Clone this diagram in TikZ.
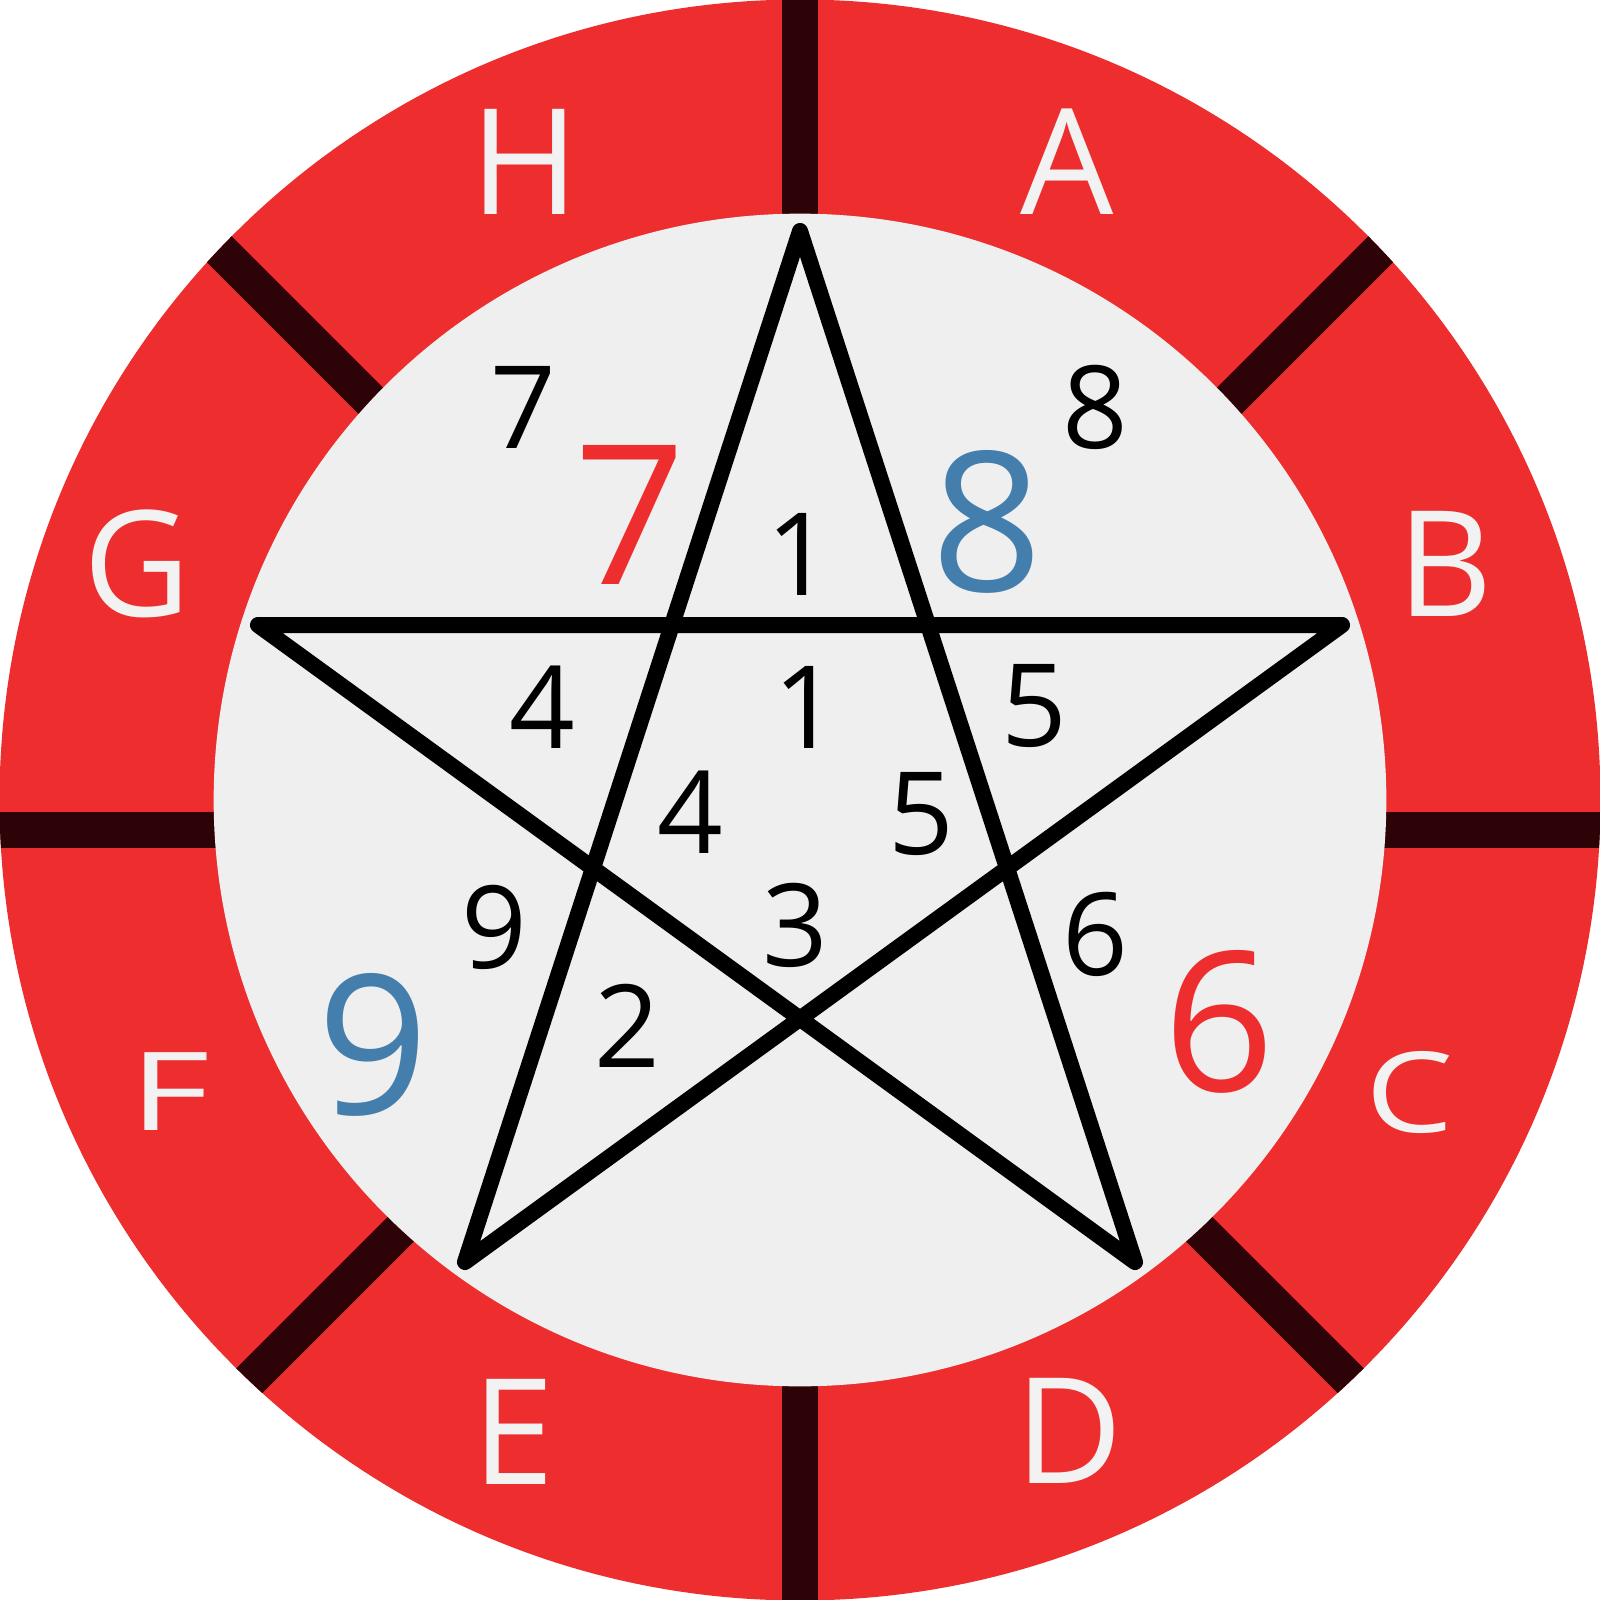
\documentclass[tikz,border=0pt]{standalone}
\usepackage{graphicx}
\usepackage{fontspec}
\setmainfont{Open Sans}
\definecolor{ringred}{RGB}{238,45,46}
\definecolor{bardark}{RGB}{45,3,7}
\definecolor{innergray}{RGB}{239,239,239}
\definecolor{ringtxt}{RGB}{242,242,242}
\definecolor{numblue}{RGB}{68,126,172}
\tikzset{
  divider/.style={draw=bardark, line width=0.36cm, line cap=butt},
  starline/.style={draw=black, line width=0.16cm, line join=round, line cap=round},
  ringlbl/.style={text=ringtxt, inner sep=0pt, font=\fontsize{41.9pt}{48pt}\selectfont},
  smalldg/.style={text=black, inner sep=0pt, font=\fontsize{32.7pt}{38pt}\selectfont},
  bigdg/.style={inner sep=0pt, font=\fontsize{55.4pt}{64pt}\selectfont},
}
\begin{document}
\begin{tikzpicture}[x=0.01cm, y=-0.01cm]
\useasboundingbox (0,0) rectangle (1600,1600);
\fill[white] (0,0) rectangle (1600,1600);
% outer ring
\fill[ringred] (800,800) circle (8cm);
\coordinate (hub) at (800,830);
\begin{scope}
  \clip (800,800) circle (8cm);
  \foreach \a in {0,45,...,315} \draw[divider] (hub) -- ++(\a:1000);
\end{scope}
% inner disc
\fill[innergray] (800,800) circle (5.86cm);
% pentagram
\coordinate (s0) at (800,231);
\coordinate (s1) at (1342,625);
\coordinate (s2) at (1135,1262);
\coordinate (s3) at (465,1262);
\coordinate (s4) at (258,625);
\draw[starline] (s0) -- (s3) -- (s1) -- (s4) -- (s2) -- cycle;
% ring letters
\node[ringlbl] (lH) at (525,162) {H};
\node[ringlbl] (lA) at (1067,162) {A};
\node[ringlbl] (lG) at (137,564) {G};
\node[ringlbl] (lB) at (1445,564) {B};
\node[ringlbl] (lF) at (170,1092) {\scalebox{1.06}[0.74]{F}};
\node[ringlbl] (lC) at (1410,1092) {\scalebox{0.95}[0.76]{C}};
\node[ringlbl] (lE) at (513,1432) {E};
\node[ringlbl] (lD) at (1069,1431) {D};
% small digits
\node[smalldg] (n7) at (523,407) {7};
\node[smalldg] (n8) at (1095,407) {8};
\node[smalldg] (n1a) at (799,554) {1};
\node[smalldg] (n1b) at (806,707) {1};
\node[smalldg] (n4a) at (542,707) {4};
\node[smalldg] (n5a) at (1034,706) {5};
\node[smalldg] (n4b) at (690,812) {4};
\node[smalldg] (n5b) at (921,814) {5};
\node[smalldg] (n9) at (494,927) {9};
\node[smalldg] (n3) at (795,925) {3};
\node[smalldg] (n6) at (1095,934) {6};
\node[smalldg] (n2) at (627,1026) {2};
% big digits
\node[bigdg, text=ringred] (b7) at (630,515) {7};
\node[bigdg, text=numblue] (b8) at (987,522) {8};
\node[bigdg, text=numblue] (b9) at (373,1045) {9};
\node[bigdg, text=ringred] (b6) at (1219,1022) {6};
\end{tikzpicture}
\end{document}
